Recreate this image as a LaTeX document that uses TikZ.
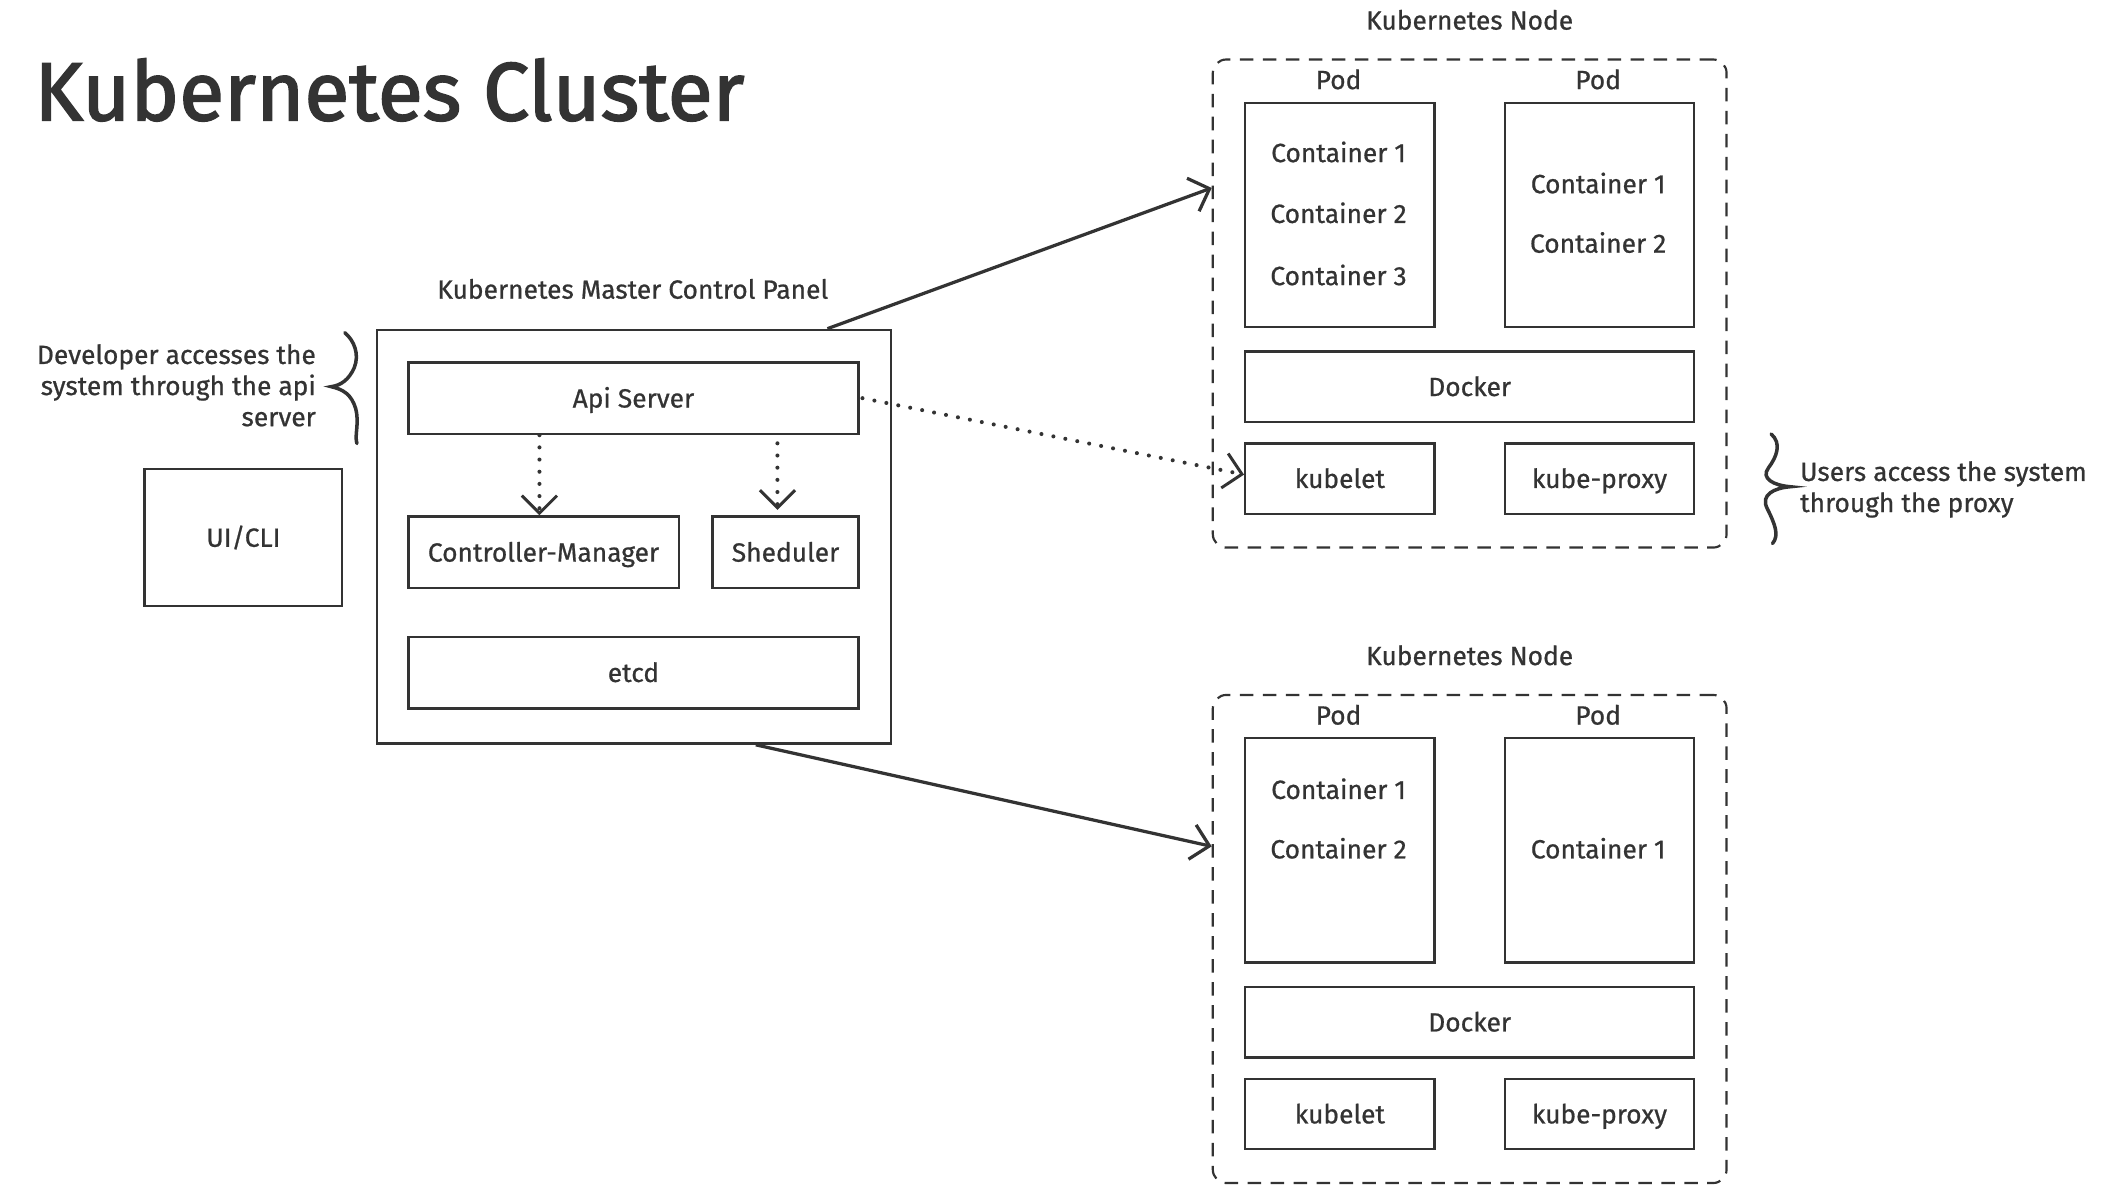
\documentclass[tikz,border=0pt]{standalone}
\usepackage{fontspec}
\setmainfont{Fira Sans}[FakeBold=0.7]
\newfontfamily\titlefont{Fira Sans}[FakeBold=2]
\usetikzlibrary{arrows.meta,calc}
\definecolor{ink}{HTML}{333333}
\begin{document}
\begin{tikzpicture}[x=0.5pt,y=-0.5pt,
  every node/.style={text=ink, font=\fontsize{9.75pt}{11.5pt}\selectfont},
  box/.style={draw=ink, line width=0.9pt, inner sep=0pt, text height=0.69em, text depth=0pt, align=center},
  txt/.style={inner sep=0pt, text height=0.69em, text depth=0pt},
  nodebox/.style={draw=ink, line width=0.8pt, dash pattern=on 5pt off 3.5pt, rounded corners=5pt, minimum width=190pt, minimum height=180.5pt, inner sep=0pt},
  podbox/.style={box, minimum width=70pt, minimum height=83pt},
  smallbox/.style={box, minimum width=70pt, minimum height=26pt},
  widebox/.style={box, minimum width=166pt, minimum height=26pt},
  solidarr/.style={draw=ink, line width=1.2pt, -{Straight Barb[length=6.5pt,width=13pt,line width=1.2pt]}},
  dotarr/.style={draw=ink, line width=1.5pt, line cap=round, dash pattern=on 0pt off 4.5pt, -{Straight Barb[length=6.5pt,width=13pt,line width=1.1pt]}},
  bracestyle/.style={draw=ink, line width=1.3pt, line cap=round}
]
\useasboundingbox (0,0) rectangle (1568,877);

% title
\node[anchor=base west, inner sep=0pt, font=\titlefont\fontsize{30.5pt}{36pt}\selectfont] (title) at (25,89) {Kubernetes Cluster};

% master
\node[draw=ink, line width=0.9pt, minimum width=190pt, minimum height=153pt, inner sep=0pt] (master) at (469,397) {};
\node[txt] (masterlbl) at (468,214) {Kubernetes Master Control Panel};
\node[box, minimum width=166.5pt, minimum height=26.5pt] (api) at (468.5,294.5) {Api Server};
\node[box, minimum width=100pt, minimum height=26.5pt] (cm) at (402,408.5) {Controller-Manager};
\node[box, minimum width=54pt, minimum height=26.5pt] (sch) at (581,408.5) {Sheduler};
\node[box, minimum width=166.5pt, minimum height=26.5pt] (etcd) at (468.5,497.5) {etcd};

% UI/CLI
\node[box, minimum width=73pt, minimum height=50.5pt] (ui) at (180,397.5) {UI/CLI};

% developer note
\node[anchor=east, align=right, inner sep=0pt] (dev) at (234,285) {Developer accesses the\\system through the api\\server};
\draw[bracestyle] (255,246) .. controls (262,252) and (266,262) .. (262,272) .. controls (258,281) and (252,285) .. (245,286) .. controls (254,288) and (260,292) .. (263,302) .. controls (266,313) and (262,322) .. (264,328);

% node 1
\node[txt] (n1lbl) at (1087,15) {Kubernetes Node};
\node[nodebox] (n1) at (1087,224.5) {};
\node[txt] (n1pod1lbl) at (990,59) {Pod};
\node[txt] (n1pod2lbl) at (1182,59) {Pod};
\node[podbox] (n1pod1) at (991,159) {};
\node[podbox] (n1pod2) at (1183,159) {};
\node[txt] (n1c11) at (990,113) {Container 1};
\node[txt] (n1c12) at (990,158) {Container 2};
\node[txt] (n1c13) at (990,204) {Container 3};
\node[txt] (n1c21) at (1182,136) {Container 1};
\node[txt] (n1c22) at (1182,180) {Container 2};
\node[widebox] (n1docker) at (1087,286) {Docker};
\node[smallbox] (n1kubelet) at (991,354) {kubelet};
\node[smallbox] (n1proxy) at (1183,354) {kube-proxy};

% users note
\draw[bracestyle] (1310,321) .. controls (1318,328) and (1314,338) .. (1308,346) .. controls (1302,354) and (1312,359) .. (1324,360) .. controls (1312,361) and (1302,366) .. (1307,376) .. controls (1313,388) and (1316,396) .. (1311,402);
\node[anchor=west, align=left, inner sep=0pt] (users) at (1331,362) {Users access the system\\through the proxy};

% node 2
\node[txt] (n2lbl) at (1087,485) {Kubernetes Node};
\node[nodebox] (n2) at (1087,694.5) {};
\node[txt] (n2pod1lbl) at (990,529) {Pod};
\node[txt] (n2pod2lbl) at (1182,529) {Pod};
\node[podbox] (n2pod1) at (991,629) {};
\node[podbox] (n2pod2) at (1183,629) {};
\node[txt] (n2c11) at (990,584) {Container 1};
\node[txt] (n2c12) at (990,628) {Container 2};
\node[txt] (n2c21) at (1182,628) {Container 1};
\node[widebox] (n2docker) at (1087,756) {Docker};
\node[smallbox] (n2kubelet) at (991,824) {kubelet};
\node[smallbox] (n2proxy) at (1183,824) {kube-proxy};

% connectors
\draw[solidarr] ([xshift=71.5pt]master.north) -- ([yshift=42.75pt]n1.west);
\draw[solidarr] ([xshift=45pt]master.south) -- ([yshift=34.25pt]n2.west);
\draw[dotarr] ([xshift=-1.5pt]cm.north |- api.south) -- ([xshift=-1.5pt]cm.north);
\draw[dotarr] ([xshift=-3pt,yshift=-3pt]sch.north |- api.south) -- ([xshift=-3pt,yshift=2pt]sch.north);
\draw[dotarr] ([xshift=1pt]api.east) -- ([yshift=1.5pt]n1kubelet.west);
\end{tikzpicture}
\end{document}
